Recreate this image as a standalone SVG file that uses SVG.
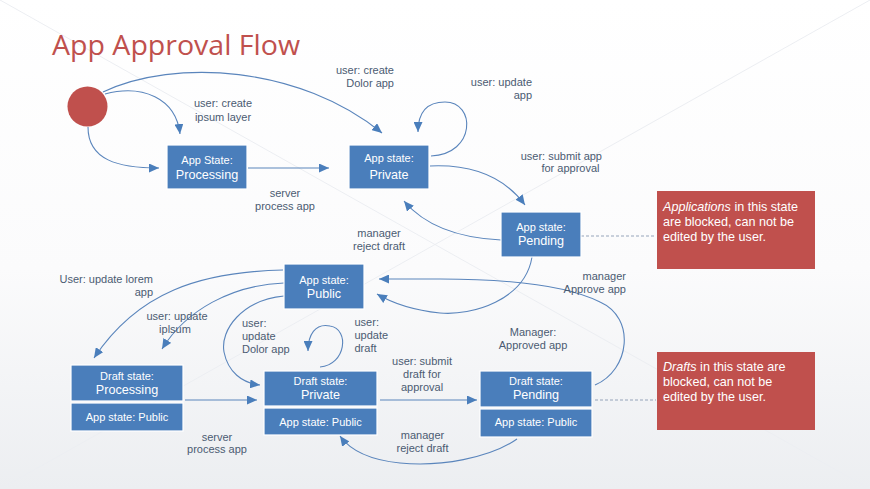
<svg xmlns="http://www.w3.org/2000/svg" width="870" height="489" viewBox="0 0 870 489">
<defs>
<linearGradient id="bg" x1="0" y1="0" x2="0" y2="1">
<stop offset="0" stop-color="#ffffff"/>
<stop offset="0.55" stop-color="#fbfbfc"/>
<stop offset="1" stop-color="#eceef1"/>
</linearGradient>
<marker id="ah" viewBox="0 0 10 9" refX="10" refY="4.5" markerWidth="10" markerHeight="9" markerUnits="userSpaceOnUse" orient="auto">
<path d="M0,0 L10,4.5 L0,9 z" fill="#4a7ebb"/>
</marker>
<style>
.title{font-family:"Open Sans","Liberation Sans",sans-serif;font-size:27px;fill:#c0504d}
.node rect{fill:#4a7ebb;stroke:#ffffff;stroke-width:1.2}
.s{font-family:"Liberation Sans",Arial,sans-serif;font-size:11px;fill:#ffffff;text-anchor:middle}
.b{font-family:"Liberation Sans",Arial,sans-serif;font-size:12.6px;fill:#ffffff;text-anchor:middle}
.lbl{font-family:"Liberation Sans",Arial,sans-serif;font-size:11px;fill:#4b5b72}
.note rect{fill:#c0504d}
.nt{font-family:"Liberation Sans",Arial,sans-serif;font-size:12.6px;fill:#ffffff}
.c{fill:none;stroke:#5a85bc;stroke-width:1.1;marker-end:url(#ah)}
.d{fill:none;stroke:#8a9bb3;stroke-width:0.9;stroke-dasharray:3,2}
.deco{stroke:#eceef2;stroke-width:1}
</style>
</defs>
<rect x="0" y="0" width="870" height="489" fill="url(#bg)"/>
<g id="decor">
<line class="deco" x1="0" y1="0" x2="870" y2="489"/>
<line class="deco" x1="870" y1="0" x2="0" y2="489"/>
</g>
<text class="title" x="52" y="55" textLength="248" lengthAdjust="spacingAndGlyphs">App Approval Flow</text>

<g id="connectors">
<path class="c" d="M105,94 C142,84 176,98 180,134"/>
<path class="c" d="M88,127 C88,160 118,168 159,168"/>
<path class="c" d="M103,92 C175,58 300,66 382,133"/>
<path class="c" d="M248,168 L329,168"/>
<path class="c" d="M431,156 C476,154 476,102 445,102 C425,102 418,115 418,132"/>
<path class="c" d="M430,166 C474,164 505,178 525,205"/>
<path class="c" d="M501,240 C460,238 425,226 404,201"/>
<path class="c" d="M532,257 C525,300 472,316 440,313 C412,310 392,303 377,294"/>
<path class="c" d="M595,385 C630,370 636,318 600,302 C570,287 520,279 440,279 L379,279"/>
<path class="c" d="M283,270 C200,272 138,292 94,358"/>
<path class="c" d="M284,283 C232,285 186,310 162,349"/>
<path class="c" d="M284,296 C242,300 220,330 224,352 C228,372 242,383 260,385"/>
<path class="c" d="M320,367 C346,365 350,329 330,326 C315,323 308,335 308,351"/>
<path class="c" d="M185,400 L257,400"/>
<path class="c" d="M380,400 L477,400"/>
<path class="c" d="M517,439 C490,458 440,467 400,463 C370,460 350,450 340,436"/>
<path class="d" d="M581,236 L656,236"/>
<path class="d" d="M595,400 L656,400"/>
</g>

<g id="start"><circle cx="87.5" cy="106.5" r="20" fill="#c0504d"/></g>

<g id="app-processing" class="node">
<rect x="167" y="145" width="80" height="44"/>
<text class="s" x="207" y="164">App State:</text>
<text class="b" x="207" y="178.5">Processing</text>
</g>
<g id="app-private" class="node">
<rect x="349" y="145" width="80" height="44"/>
<text class="s" x="389" y="162">App state:</text>
<text class="b" x="389" y="178.5">Private</text>
</g>
<g id="app-pending" class="node">
<rect x="501" y="212" width="80" height="45"/>
<text class="s" x="541" y="231">App state:</text>
<text class="b" x="541" y="245">Pending</text>
</g>
<g id="app-public" class="node">
<rect x="284" y="264" width="80" height="45"/>
<text class="s" x="324" y="283.5">App state:</text>
<text class="b" x="324" y="297.5">Public</text>
</g>
<g id="draft-processing" class="node">
<rect x="71" y="365" width="112" height="36"/>
<rect x="71" y="403" width="112" height="28"/>
<text class="s" x="127" y="380">Draft state:</text>
<text class="b" x="127" y="393.5">Processing</text>
<text class="s" x="127" y="420.5">App state: Public</text>
</g>
<g id="draft-private" class="node">
<rect x="264" y="371" width="113" height="35"/>
<rect x="264" y="408" width="113" height="27"/>
<text class="s" x="320.5" y="384.5">Draft state:</text>
<text class="b" x="320.5" y="398.5">Private</text>
<text class="s" x="320.5" y="426">App state: Public</text>
</g>
<g id="draft-pending" class="node">
<rect x="480" y="371" width="112" height="36"/>
<rect x="480" y="409" width="112" height="28"/>
<text class="s" x="536" y="385">Draft state:</text>
<text class="b" x="536" y="398.5">Pending</text>
<text class="s" x="536" y="426">App state: Public</text>
</g>

<g id="note-apps" class="note">
<rect x="657" y="191" width="158" height="78"/>
<text class="nt" x="663" y="210.5"><tspan font-style="italic">Applications</tspan> in this state</text>
<text class="nt" x="663" y="225.5">are blocked, can not be</text>
<text class="nt" x="663" y="240.5">edited by the user.</text>
</g>
<g id="note-drafts" class="note">
<rect x="657" y="352" width="158" height="78"/>
<text class="nt" x="663" y="371"><tspan font-style="italic">Drafts</tspan> in this state are</text>
<text class="nt" x="663" y="386">blocked, can not be</text>
<text class="nt" x="663" y="401">edited by the user.</text>
</g>

<g id="labels">
<text class="lbl" text-anchor="middle" x="223" y="107">user: create</text>
<text class="lbl" text-anchor="middle" x="223" y="120.5">ipsum layer</text>
<text class="lbl" text-anchor="end" x="394" y="74">user: create</text>
<text class="lbl" text-anchor="end" x="394" y="86.5">Dolor app</text>
<text class="lbl" text-anchor="end" x="532" y="86">user: update</text>
<text class="lbl" text-anchor="end" x="532" y="98.5">app</text>
<text class="lbl" text-anchor="end" x="602" y="159.5">user: submit app</text>
<text class="lbl" text-anchor="end" x="599.5" y="172">for approval</text>
<text class="lbl" text-anchor="middle" x="285" y="196.5">server</text>
<text class="lbl" text-anchor="middle" x="285" y="209.5">process app</text>
<text class="lbl" text-anchor="middle" x="379" y="237">manager</text>
<text class="lbl" text-anchor="middle" x="379" y="249.5">reject draft</text>
<text class="lbl" text-anchor="end" x="153" y="283">User: update lorem</text>
<text class="lbl" text-anchor="end" x="153" y="296">app</text>
<text class="lbl" text-anchor="middle" x="177" y="320">user: update</text>
<text class="lbl" text-anchor="middle" x="175" y="333">iplsum</text>
<text class="lbl" x="242" y="326.5">user:</text>
<text class="lbl" x="242" y="339.5">update</text>
<text class="lbl" x="242" y="352.5">Dolor app</text>
<text class="lbl" x="354.5" y="325.5">user:</text>
<text class="lbl" x="354.5" y="338.5">update</text>
<text class="lbl" x="354.5" y="351.5">draft</text>
<text class="lbl" text-anchor="middle" x="422" y="365">user: submit</text>
<text class="lbl" text-anchor="middle" x="422" y="378">draft for</text>
<text class="lbl" text-anchor="middle" x="422" y="390.5">approval</text>
<text class="lbl" text-anchor="middle" x="422.5" y="439">manager</text>
<text class="lbl" text-anchor="middle" x="422.5" y="451.5">reject draft</text>
<text class="lbl" text-anchor="middle" x="217" y="440.5">server</text>
<text class="lbl" text-anchor="middle" x="217" y="453">process app</text>
<text class="lbl" text-anchor="middle" x="533" y="336">Manager:</text>
<text class="lbl" text-anchor="middle" x="533" y="349">Approved app</text>
<text class="lbl" text-anchor="end" x="626" y="280">manager</text>
<text class="lbl" text-anchor="end" x="626" y="293">Approve app</text>
</g>
</svg>
